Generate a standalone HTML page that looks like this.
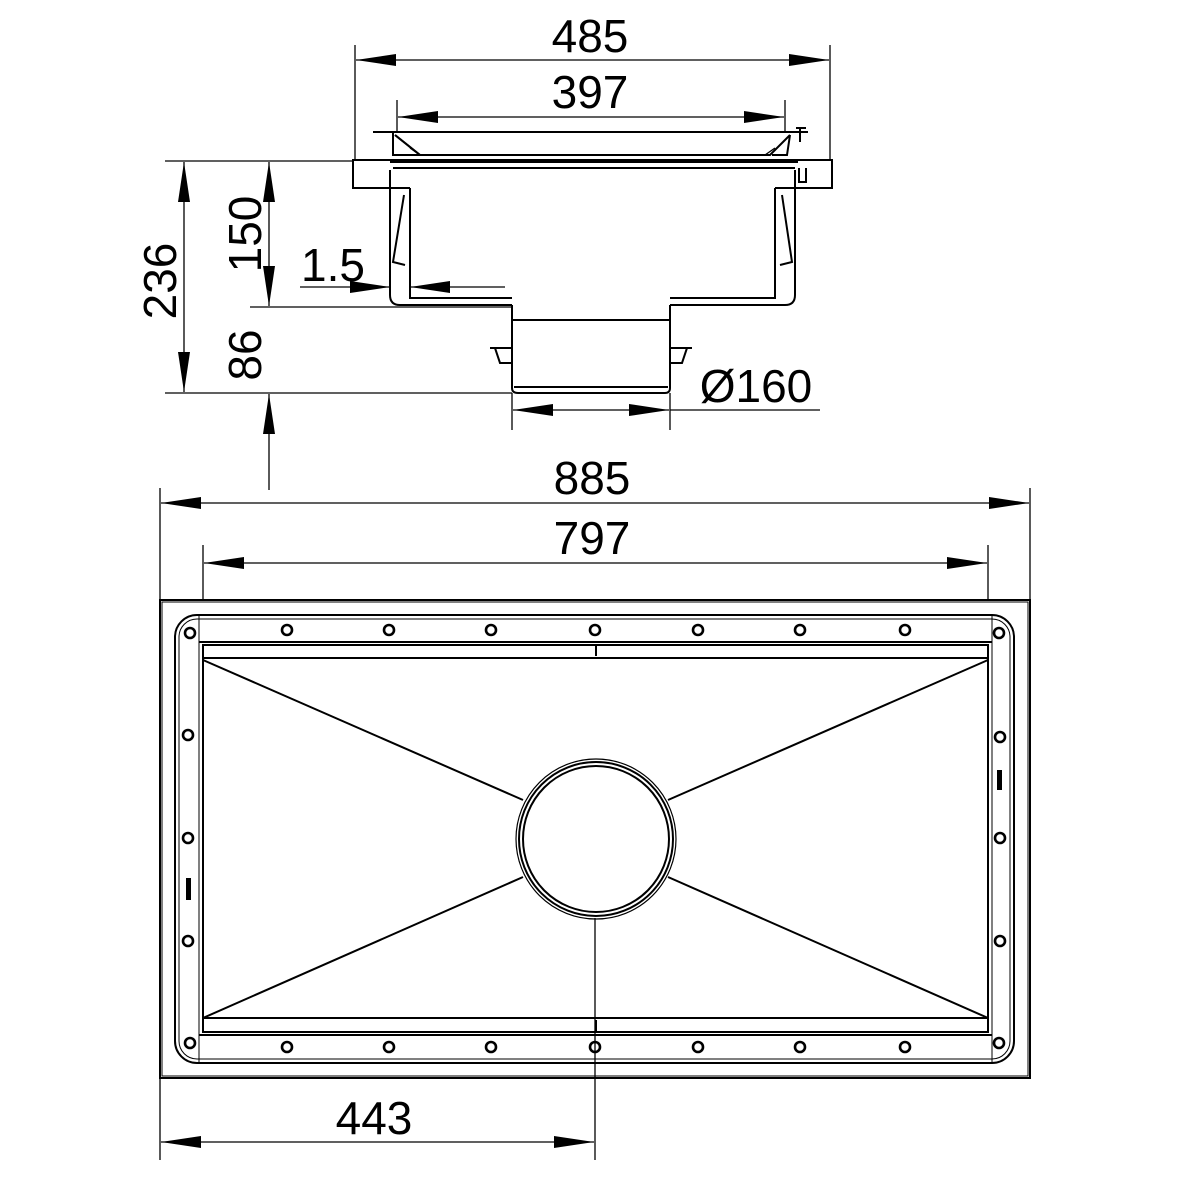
<!DOCTYPE html>
<html><head><meta charset="utf-8"><style>
html,body{margin:0;padding:0;background:#fff}
svg{display:block}
text{font-family:"Liberation Sans",sans-serif;font-size:46px;fill:#000}
</style></head><body>
<svg width="1181" height="1181" viewBox="0 0 1181 1181" xmlns="http://www.w3.org/2000/svg">
<defs>
<marker id="a" viewBox="0 0 40 12" refX="40" refY="6" markerWidth="40" markerHeight="12" markerUnits="userSpaceOnUse" orient="auto-start-reverse"><path d="M0,0 L40,6 L0,12 Z" fill="#000"/></marker>
</defs>
<g fill="none" stroke="#000" stroke-width="1.3">
<line x1="355" y1="45" x2="355" y2="160"/>
<line x1="830" y1="45" x2="830" y2="160"/>
<line x1="356" y1="60" x2="829" y2="60" marker-start="url(#a)" marker-end="url(#a)"/>
<line x1="397" y1="100" x2="397" y2="132"/>
<line x1="785" y1="100" x2="785" y2="132"/>
<line x1="398" y1="117" x2="784" y2="117" marker-start="url(#a)" marker-end="url(#a)"/>

<g stroke-width="2">
<path d="M373,132 H808"/>
<path d="M393,133 L393,155 L420,155 L395,135"/>
<path d="M395,135 L420,155 H770 L790,135"/>
<path d="M790,135 L787,155 L772,155"/>
<path d="M390,188 H353 V160 H832 V188 H795"/>
<path d="M390,162 H798 M393,168 H795"/>
<path d="M390,170 V295 Q390,305 400,305 H512 M795,170 V295 Q795,305 785,305 H670"/>
<path d="M410,188 V298 H512 M775,188 V298 H670"/>
<path d="M390,188 H410 M775,188 H795"/>
<path d="M404,195 L393,262 L405,265 M782,195 L792,262 L780,265"/>
<path d="M512,305 V388 Q512,393 518,393 H665 Q670,393 670,388 V305"/>
<path d="M512,320 H670 M514,387 H668"/>
<path d="M490,348 H512 M670,348 H692 M495,348 L500,363 H512 M687,348 L682,363 H670"/>
<path d="M800,128 V142 M796,128 H806 M799,168 V182 H806 V168"/>
</g>
<path d="M420,155 L410,148 M765,155 L775,148"/>

<line x1="165" y1="161" x2="353" y2="161"/>
<line x1="250" y1="307" x2="512" y2="307"/>
<line x1="165" y1="393" x2="512" y2="393"/>
<line x1="184" y1="162" x2="184" y2="392" marker-start="url(#a)" marker-end="url(#a)"/>
<line x1="269" y1="162" x2="269" y2="306" marker-start="url(#a)" marker-end="url(#a)"/>
<line x1="269" y1="490" x2="269" y2="394" marker-end="url(#a)"/>
<line x1="300" y1="287" x2="390" y2="287" marker-end="url(#a)"/>
<line x1="505" y1="287" x2="410" y2="287" marker-end="url(#a)"/>
<line x1="512" y1="393" x2="512" y2="430"/>
<line x1="670" y1="393" x2="670" y2="430"/>
<line x1="555" y1="410" x2="513" y2="410" marker-end="url(#a)"/>
<line x1="628" y1="410" x2="669" y2="410" marker-end="url(#a)"/>
<line x1="555" y1="410" x2="628" y2="410"/>
<line x1="670" y1="410" x2="820" y2="410"/>

<line x1="160" y1="488" x2="160" y2="1160"/>
<line x1="1030" y1="488" x2="1030" y2="600"/>
<line x1="161" y1="503" x2="1029" y2="503" marker-start="url(#a)" marker-end="url(#a)"/>
<line x1="203" y1="545" x2="203" y2="600"/>
<line x1="988" y1="545" x2="988" y2="600"/>
<line x1="204" y1="563" x2="987" y2="563" marker-start="url(#a)" marker-end="url(#a)"/>
<line x1="595" y1="918" x2="595" y2="1160"/>
<line x1="161" y1="1142" x2="594" y2="1142" marker-start="url(#a)" marker-end="url(#a)"/>

<g stroke-width="2">
<rect x="160" y="600" width="870" height="478"/>
<path d="M162,602 V1076 H1028 V602 Z" stroke-width="1"/>
<rect x="175" y="615" width="839" height="448" rx="22"/>
<rect x="179" y="619" width="831" height="440" rx="18" stroke-width="1"/>
<path d="M199,615 V1063 M992,615 V1063" stroke-width="1"/>
<path d="M199,642 H992 M199,1035 H992"/>
<rect x="203" y="645" width="785" height="387"/>
<path d="M203,658 H988 M203,1018 H988"/>
<path d="M203,660 L523,800 M988,660 L668,800 M203,1018 L523,877 M988,1018 L668,877"/>
<circle cx="596" cy="839" r="80" stroke-width="1.2"/>
<circle cx="596" cy="839" r="77"/>
<circle cx="596" cy="839" r="73"/>
<path d="M596,645 V656 M596,1020 V1032"/>
</g>
<g stroke-width="2.6">
<circle cx="287" cy="630" r="5"/><circle cx="389" cy="630" r="5"/><circle cx="491" cy="630" r="5"/><circle cx="595" cy="630" r="5"/><circle cx="698" cy="630" r="5"/><circle cx="800" cy="630" r="5"/><circle cx="905" cy="630" r="5"/>
<circle cx="287" cy="1047" r="5"/><circle cx="389" cy="1047" r="5"/><circle cx="491" cy="1047" r="5"/><circle cx="595" cy="1047" r="5"/><circle cx="698" cy="1047" r="5"/><circle cx="800" cy="1047" r="5"/><circle cx="905" cy="1047" r="5"/>
<circle cx="190" cy="633" r="5"/><circle cx="188" cy="735" r="5"/><circle cx="188" cy="838" r="5"/><circle cx="188" cy="941" r="5"/><circle cx="190" cy="1043" r="5"/>
<circle cx="999" cy="633" r="5"/><circle cx="1000" cy="737" r="5"/><circle cx="1000" cy="838" r="5"/><circle cx="1000" cy="941" r="5"/><circle cx="999" cy="1043" r="5"/>
</g>
<rect x="997" y="770" width="5" height="20" fill="#000" stroke="none"/>
<rect x="186" y="878" width="5" height="22" fill="#000" stroke="none"/>
</g>

<text x="590" y="52" text-anchor="middle">485</text>
<text x="590" y="108" text-anchor="middle">397</text>
<text x="592" y="494" text-anchor="middle">885</text>
<text x="592" y="554" text-anchor="middle">797</text>
<text x="374" y="1134" text-anchor="middle">443</text>
<text x="333" y="281" text-anchor="middle">1.5</text>
<text x="756" y="402" text-anchor="middle">Ø160</text>
<text transform="translate(176,281) rotate(-90)" text-anchor="middle">236</text>
<text transform="translate(261,234) rotate(-90)" text-anchor="middle">150</text>
<text transform="translate(261,355) rotate(-90)" text-anchor="middle">86</text>
</svg>
</body></html>
